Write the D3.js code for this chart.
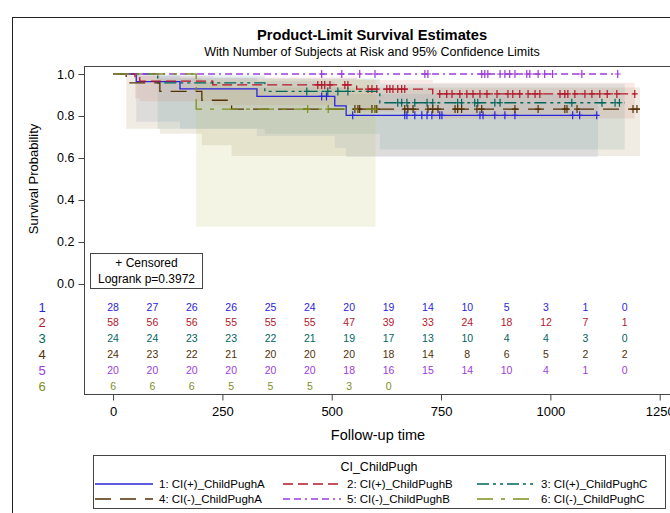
<!DOCTYPE html>
<html>
<head>
<meta charset="utf-8">
<script src="https://cdn.jsdelivr.net/npm/d3@7"></script>
<style>
  body { margin: 0; background: #fff; }
  text { font-family: "Liberation Sans", Arial, sans-serif; }
</style>
</head>
<body>
<div id="chart"></div>
<script>
// group labels and styles
const groupNames = ['1: CI(+)_ChildPughA', '2: CI(+)_ChildPughB', '3: CI(+)_ChildPughC',
                    '4: CI(-)_ChildPughA', '5: CI(-)_ChildPughB', '6: CI(-)_ChildPughC'];
const lineColors = ['#2A25D9', '#B2182B', '#01665E', '#543005', '#9D3CDB', '#7F8E1F'];
const fillColors = ['#7C95CA', '#DE7E6F', '#66A5A0', '#A9865B', '#B689CD', '#BABC5C'];
const dashes = [null, '10,5', '12,4,3,4,3,4', '16,9', '7,4,7,4,2,4', '16,8,4,8'];

// step times (event times), survival, 95% limits, end of follow-up
const g1Times = [0, 53, 153, 329, 507, 533];
const g1Surv  = [1, 0.964, 0.929, 0.893, 0.848, 0.803];
const g1Low   = [1, 0.772, 0.739, 0.705, 0.648, 0.605];
const g1High  = [1, 0.995, 0.982, 0.965, 0.937, 0.905];
const g1Cens  = [477, 488, 548, 667, 672, 690, 706, 718, 729, 747, 752, 839, 846, 873, 896, 919, 1051, 1067, 1106];

const g2Times = [0, 50, 61, 228, 557, 731];
const g2Surv  = [1, 0.983, 0.966, 0.948, 0.928, 0.905];
const g2Low   = [1, 0.885, 0.870, 0.851, 0.822, 0.788];
const g2High  = [1, 0.998, 0.991, 0.983, 0.972, 0.958];
const g2Cens  = [468, 477, 484, 496, 530, 537, 583, 592, 603, 626, 633, 640, 651, 660, 667, 747, 763, 775,
                 793, 809, 823, 839, 855, 878, 903, 914, 930, 949, 965, 976, 1022, 1033, 1040, 1056, 1079,
                 1095, 1113, 1130, 1152, 1193];

const g3Times = [0, 102, 347, 610];
const g3Surv  = [1, 0.958, 0.917, 0.863];
const g3Low   = [1, 0.739, 0.715, 0.640];
const g3High  = [1, 0.994, 0.979, 0.953];
const g3Cens  = [443, 491, 514, 537, 651, 660, 672, 690, 718, 731, 788, 797, 827, 834, 873, 885, 1049, 1118, 1148, 1158];

const g4Times = [0, 30, 107, 203, 271];
const g4Surv  = [1, 0.958, 0.917, 0.875, 0.833];
const g4Low   = [1, 0.739, 0.715, 0.661, 0.610];
const g4High  = [1, 0.994, 0.979, 0.959, 0.936];
const g4Cens  = [553, 560, 564, 592, 599, 603, 667, 674, 686, 720, 731, 743, 782, 788, 797, 832, 843, 919, 972,
                 1033, 1038, 1061, 1189, 1198];

const g5Times = [0];
const g5Surv  = [1];
const g5Low   = [1];
const g5High  = [1];
const g5Cens  = [477, 523, 564, 599, 713, 720, 843, 850, 857, 885, 896, 907, 919, 946, 953, 972, 987, 1005, 1072, 1154];

const g6Times = [0, 190];
const g6Surv  = [1, 0.833];
const g6Low   = [1, 0.273];
const g6High  = [1, 0.975];
const g6Cens  = [445, 492, 600];

const endTimes = [1109, 1193, 1170, 1205, 1155, 600];

// number at risk
const riskTimes = [0, 90, 180, 270, 360, 450, 540, 630, 720, 810, 900, 990, 1080, 1170];
const risk1 = [28, 27, 26, 26, 25, 24, 20, 19, 14, 10, 5, 3, 1, 0];
const risk2 = [58, 56, 56, 55, 55, 55, 47, 39, 33, 24, 18, 12, 7, 1];
const risk3 = [24, 24, 23, 23, 22, 21, 19, 17, 13, 10, 4, 4, 3, 0];
const risk4 = [24, 23, 22, 21, 20, 20, 20, 18, 14, 8, 6, 5, 2, 2];
const risk5 = [20, 20, 20, 20, 20, 20, 18, 16, 15, 14, 10, 4, 1, 0];
const risk6 = [6, 6, 6, 5, 5, 5, 3, 0];

const xTicks = [0, 250, 500, 750, 1000, 1250];
const yTicks = [0, 0.2, 0.4, 0.6, 0.8, 1.0];

const groups = [
    { times: g1Times, surv: g1Surv, low: g1Low, high: g1High, cens: g1Cens, risk: risk1 },
    { times: g2Times, surv: g2Surv, low: g2Low, high: g2High, cens: g2Cens, risk: risk2 },
    { times: g3Times, surv: g3Surv, low: g3Low, high: g3High, cens: g3Cens, risk: risk3 },
    { times: g4Times, surv: g4Surv, low: g4Low, high: g4High, cens: g4Cens, risk: risk4 },
    { times: g5Times, surv: g5Surv, low: g5Low, high: g5High, cens: g5Cens, risk: risk5 },
    { times: g6Times, surv: g6Surv, low: g6Low, high: g6High, cens: g6Cens, risk: risk6 }
];

const W = 670, H = 513;
// plot frame runs past the right edge of the (cropped) image
const frame = { left: 84, right: 700, top: 66, bottom: 394 };

const svg = d3.select('#chart').append('svg')
    .attr('width', W).attr('height', H);

// outer border
svg.append('rect')
    .attr('x', 12.5).attr('y', 17.5).attr('width', 720).attr('height', 520)
    .attr('fill', 'none').attr('stroke', '#222').attr('stroke-width', 1);

// titles
svg.append('text').attr('x', 372).attr('y', 39.5).attr('text-anchor', 'middle')
    .attr('font-size', '14.7px').attr('font-weight', 'bold').text('Product-Limit Survival Estimates');
svg.append('text').attr('x', 372).attr('y', 56).attr('text-anchor', 'middle')
    .attr('font-size', '12.5px').text('With Number of Subjects at Risk and 95% Confidence Limits');

const xScale = d3.scaleLinear().domain([-66.5, 1269]).range([84, 668]);
const yScale = d3.scaleLinear().domain([-0.524, 1.0381]).range([frame.bottom, frame.top]);

// confidence bands
const area = d3.area()
    .x((d) => xScale(d.t))
    .y0((d) => yScale(d.lo))
    .y1((d) => yScale(d.hi))
    .curve(d3.curveStepAfter);

groups.forEach((g, i) => {
    if (g.times.length < 2) return;
    const pts = [];
    for (let k = 1; k < g.times.length; k++) {
        pts.push({ t: g.times[k], lo: g.low[k], hi: g.high[k] });
    }
    const last = g.times.length - 1;
    pts.push({ t: endTimes[i], lo: g.low[last], hi: g.high[last] });
    svg.append('path').datum(pts)
        .attr('fill', fillColors[i]).attr('fill-opacity', 0.17)
        .attr('d', area);
});

// survival curves
const line = d3.line()
    .x((d) => xScale(d.t))
    .y((d) => yScale(d.s))
    .curve(d3.curveStepAfter);

function survAt(g, t) {
    let s = 1;
    g.times.forEach((tt, k) => { if (tt <= t) s = g.surv[k]; });
    return s;
}

groups.forEach((g, i) => {
    const pts = g.times.map((t, k) => ({ t: t, s: g.surv[k] }));
    pts.push({ t: endTimes[i], s: g.surv[g.surv.length - 1] });
    svg.append('path').datum(pts)
        .attr('fill', 'none')
        .attr('stroke', lineColors[i]).attr('stroke-width', 1.3)
        .attr('stroke-dasharray', dashes[i])
        .attr('d', line);

    // censored marks
    svg.append('g').selectAll('path')
        .data(g.cens)
        .enter().append('path')
        .attr('d', (t) => {
            const cx = xScale(t), cy = yScale(survAt(g, t));
            return `M${cx - 3},${cy}h6M${cx},${cy - 4}v8`;
        })
        .attr('stroke', lineColors[i]).attr('stroke-width', 1.2).attr('fill', 'none');
});

// frame
svg.append('rect')
    .attr('x', frame.left + 0.5).attr('y', frame.top + 0.5)
    .attr('width', frame.right - frame.left).attr('height', frame.bottom - frame.top)
    .attr('fill', 'none').attr('stroke', '#444').attr('stroke-width', 1);

// y axis
const yAxis = svg.append('g')
    .attr('transform', `translate(${frame.left + 0.5},0)`)
    .call(d3.axisLeft(yScale).tickValues(yTicks).tickFormat(d3.format('.1f')).tickSize(6).tickPadding(4));
yAxis.select('.domain').remove();
yAxis.selectAll('line').attr('stroke', '#444');
yAxis.selectAll('text').attr('font-size', '12.5px').attr('fill', '#000')
    .style('font-family', '"Liberation Sans", Arial, sans-serif');

svg.append('text')
    .attr('transform', `translate(33,${yScale(0.5)}) rotate(-90)`)
    .attr('text-anchor', 'middle').attr('dy', '0.35em')
    .attr('font-size', '13px').text('Survival Probability');

// x axis
const xAxis = svg.append('g')
    .attr('transform', `translate(0,${frame.bottom + 0.5})`)
    .call(d3.axisBottom(xScale).tickValues(xTicks).tickFormat(d3.format('d')).tickSize(6).tickPadding(6));
xAxis.select('.domain').remove();
xAxis.selectAll('line').attr('stroke', '#444');
xAxis.selectAll('text').attr('font-size', '13px').attr('fill', '#000')
    .style('font-family', '"Liberation Sans", Arial, sans-serif');

svg.append('text')
    .attr('x', 378).attr('y', 440)
    .attr('text-anchor', 'middle').attr('font-size', '14.5px').text('Follow-up time');

// number at risk table
const rowY = [307, 322.8, 338.6, 354.4, 370.2, 386];
groups.forEach((g, i) => {
    svg.append('text')
        .attr('x', 42).attr('y', rowY[i]).attr('dy', '0.35em')
        .attr('text-anchor', 'middle').attr('font-size', '13px')
        .attr('fill', lineColors[i]).text(i + 1);
    svg.append('g').selectAll('text')
        .data(g.risk)
        .enter().append('text')
        .attr('x', (d, k) => xScale(riskTimes[k]))
        .attr('y', rowY[i]).attr('dy', '0.35em')
        .attr('text-anchor', 'middle').attr('font-size', '10.5px')
        .attr('fill', lineColors[i])
        .text((d) => d);
});

// censored / logrank box
svg.append('rect')
    .attr('x', 90.5).attr('y', 253.5).attr('width', 112).attr('height', 35)
    .attr('fill', '#fff').attr('stroke', '#444');
svg.append('text').attr('x', 146.5).attr('y', 267).attr('text-anchor', 'middle')
    .attr('font-size', '12px').text('+ Censored');
svg.append('text').attr('x', 146.5).attr('y', 283).attr('text-anchor', 'middle')
    .attr('font-size', '12px').text('Logrank p=0.3972');

// legend
svg.append('rect')
    .attr('x', 93.5).attr('y', 455.5).attr('width', 572).attr('height', 53)
    .attr('fill', '#fff').attr('stroke', '#444');
svg.append('text').attr('x', 379).attr('y', 471).attr('text-anchor', 'middle')
    .attr('font-size', '12.5px').text('CI_ChildPugh');

const legLineX = [95, 283, 477];
const legRowY = [484, 499];
groupNames.forEach((name, i) => {
    const col = i % 3, row = Math.floor(i / 3);
    const lx = legLineX[col], ly = legRowY[row];
    svg.append('line')
        .attr('x1', lx).attr('x2', lx + 58).attr('y1', ly).attr('y2', ly)
        .attr('stroke', lineColors[i]).attr('stroke-width', 1.3)
        .attr('stroke-dasharray', dashes[i]);
    svg.append('text')
        .attr('x', lx + 64).attr('y', ly + 4)
        .attr('font-size', '11.5px').text(name);
});
</script>
</body>
</html>
